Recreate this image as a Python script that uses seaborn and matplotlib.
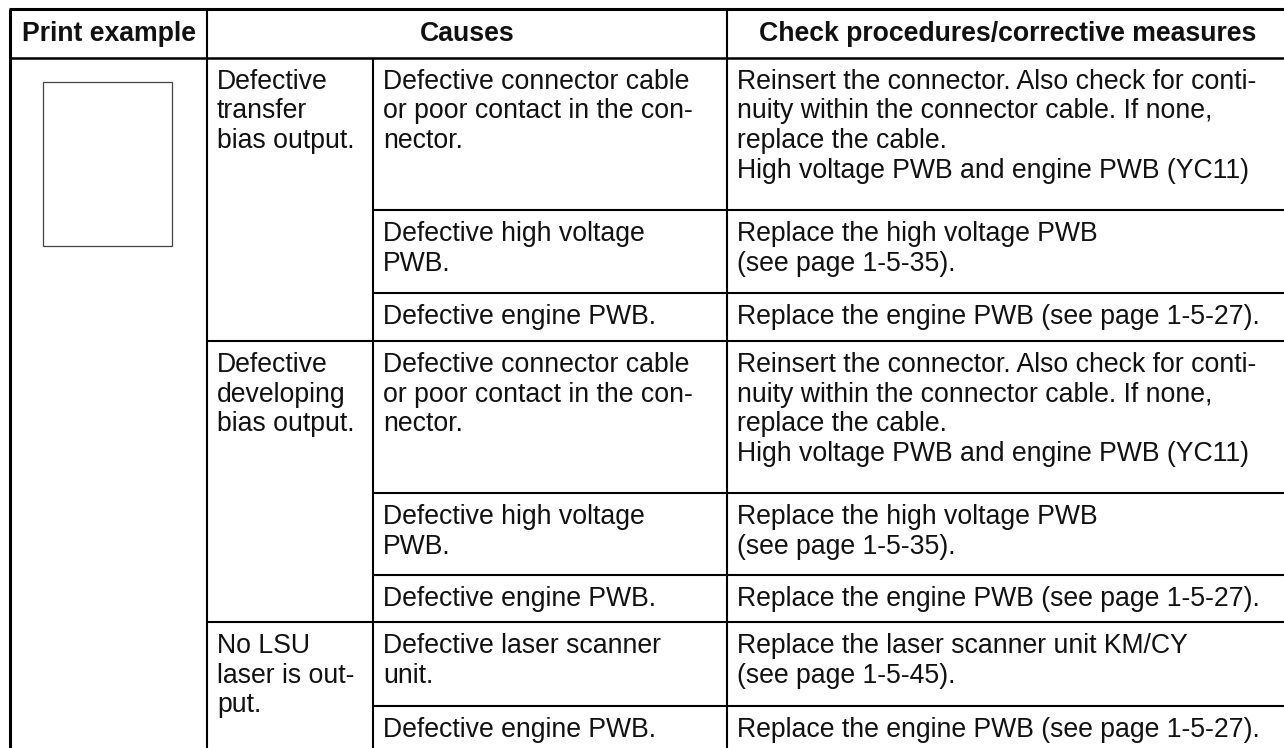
import matplotlib

matplotlib.use("Agg")
import matplotlib.pyplot as plt
import seaborn as sns
from matplotlib.patches import Rectangle

# table content
HEADERS = ["Print example", "Causes", "Check procedures/corrective measures"]
GROUPS = [
    "Defective\ntransfer\nbias output.",
    "Defective\ndeveloping\nbias output.",
    "No LSU\nlaser is out-\nput.",
]
GROUP_SIZES = [3, 3, 2]
CAUSES = [
    "Defective connector cable\nor poor contact in the con-\nnector.",
    "Defective high voltage\nPWB.",
    "Defective engine PWB.",
    "Defective connector cable\nor poor contact in the con-\nnector.",
    "Defective high voltage\nPWB.",
    "Defective engine PWB.",
    "Defective laser scanner\nunit.",
    "Defective engine PWB.",
]
MEASURES = [
    "Reinsert the connector. Also check for conti-\nnuity within the connector cable. If none,\n"
    "replace the cable.\nHigh voltage PWB and engine PWB (YC11)",
    "Replace the high voltage PWB\n(see page 1-5-35).",
    "Replace the engine PWB (see page 1-5-27).",
    "Reinsert the connector. Also check for conti-\nnuity within the connector cable. If none,\n"
    "replace the cable.\nHigh voltage PWB and engine PWB (YC11)",
    "Replace the high voltage PWB\n(see page 1-5-35).",
    "Replace the engine PWB (see page 1-5-27).",
    "Replace the laser scanner unit KM/CY\n(see page 1-5-45).",
    "Replace the engine PWB (see page 1-5-27).",
]

# layout in pixels
W, H = 1284, 748
COL_X = [10, 207, 373, 727, 1290]
TOP_Y = 9
HEAD_Y = 57.5
ROW_TOPS = [57.5, 210, 293, 341, 493, 575, 622, 706]
BOTTOM_Y = 760
PAD_X = 10
FIRST_BASE = 31
LINE_STEP = 29.7
FS = 19.2
FONT = ["Liberation Sans", "DejaVu Sans"]
OUTER_LW = 2.2
INNER_LW = 1.5


def cell_text(ax, x, top, text):
    for i, line in enumerate(text.split("\n")):
        ax.text(x + PAD_X, top + FIRST_BASE + i * LINE_STEP, line,
                ha="left", va="baseline", fontsize=FS, family=FONT, color="#111111")


def main() -> None:
    sns.set_theme(style="white")
    plt.rcParams["font.family"] = FONT

    fig = plt.figure(figsize=(W / 100, H / 100), dpi=100)
    ax = fig.add_axes([0, 0, 1, 1])
    ax.set_xlim(0, W)
    ax.set_ylim(H, 0)
    ax.axis("off")

    # outer border and header line
    ax.hlines(TOP_Y, COL_X[0] - 1, W, color="black", lw=OUTER_LW)
    ax.vlines(COL_X[0], TOP_Y, BOTTOM_Y, color="black", lw=OUTER_LW)
    ax.hlines(HEAD_Y, COL_X[0], W, color="black", lw=1.8)

    # column lines
    ax.vlines(COL_X[1], TOP_Y, BOTTOM_Y, color="black", lw=INNER_LW)
    ax.vlines(COL_X[2], HEAD_Y, BOTTOM_Y, color="black", lw=INNER_LW)
    ax.vlines(COL_X[3], TOP_Y, BOTTOM_Y, color="black", lw=INNER_LW)

    # header text
    header_base = 41
    ax.text((COL_X[0] + COL_X[1]) / 2, header_base, HEADERS[0], ha="center",
            va="baseline", fontsize=FS, fontweight="bold", color="#111111")
    ax.text((COL_X[1] + COL_X[3]) / 2, header_base, HEADERS[1], ha="center",
            va="baseline", fontsize=FS, fontweight="bold", color="#111111")
    ax.text(1008, header_base, HEADERS[2], ha="center",
            va="baseline", fontsize=FS, fontweight="bold", color="#111111")

    # print example thumbnail (blank page)
    ax.add_patch(Rectangle((43, 82), 129, 164, fill=False, ec="#444444", lw=0.9))

    # groups and sub rows
    start = 0
    for gi, size in enumerate(GROUP_SIZES):
        gtop = ROW_TOPS[start]
        if gi > 0:
            ax.hlines(gtop, COL_X[1], W, color="black", lw=INNER_LW)
        cell_text(ax, COL_X[1], gtop, GROUPS[gi])
        for k in range(start, start + size):
            top = ROW_TOPS[k]
            if k > start:
                ax.hlines(top, COL_X[2], W, color="black", lw=INNER_LW)
            cell_text(ax, COL_X[2], top, CAUSES[k])
            cell_text(ax, COL_X[3], top, MEASURES[k])
        start += size

    fig.savefig("out.png", dpi=100, facecolor="white")
    plt.close(fig)


if __name__ == "__main__":
    main()
